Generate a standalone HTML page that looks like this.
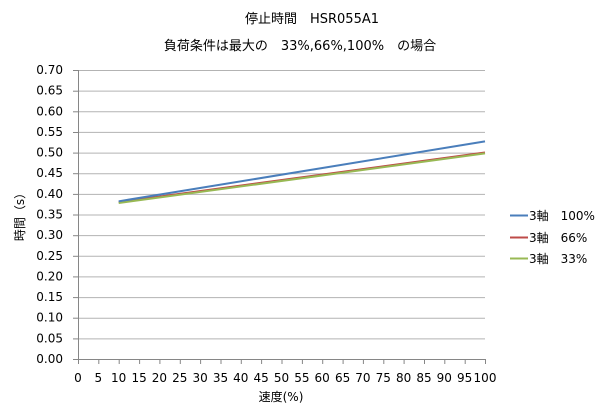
<!DOCTYPE html>
<html><head><meta charset="utf-8"><style>
html,body{margin:0;padding:0;background:#fff;}
svg{display:block;font-family:"DejaVu Sans","Noto Sans CJK JP",sans-serif;}
</style></head><body>
<svg width="600" height="418" viewBox="0 0 600 418" xmlns="http://www.w3.org/2000/svg">
<rect width="600" height="418" fill="#fff"/>
<text x="312" y="23" font-size="13" text-anchor="middle" fill="#000">停止時間　HSR055A1</text>
<text x="300" y="50" font-size="13" text-anchor="middle" fill="#000">負荷条件は最大の　33%,66%,100%　の場合</text>
<g stroke="#b3b3b3" stroke-width="1">
<line x1="78" y1="70.5" x2="485" y2="70.5"/>
<line x1="78" y1="91.1" x2="485" y2="91.1"/>
<line x1="78" y1="111.8" x2="485" y2="111.8"/>
<line x1="78" y1="132.4" x2="485" y2="132.4"/>
<line x1="78" y1="153.1" x2="485" y2="153.1"/>
<line x1="78" y1="173.7" x2="485" y2="173.7"/>
<line x1="78" y1="194.4" x2="485" y2="194.4"/>
<line x1="78" y1="215" x2="485" y2="215"/>
<line x1="78" y1="235.6" x2="485" y2="235.6"/>
<line x1="78" y1="256.3" x2="485" y2="256.3"/>
<line x1="78" y1="276.9" x2="485" y2="276.9"/>
<line x1="78" y1="297.6" x2="485" y2="297.6"/>
<line x1="78" y1="318.2" x2="485" y2="318.2"/>
<line x1="78" y1="338.9" x2="485" y2="338.9"/>
</g>
<g stroke="#868686" stroke-width="1">
<line x1="78.5" y1="70" x2="78.5" y2="359"/>
<line x1="78" y1="359.5" x2="485" y2="359.5"/>
</g>
<g stroke="#868686" stroke-width="1" id="yt"></g>
<g font-size="12" fill="#000" text-anchor="end" id="yl"></g>
<g font-size="12" fill="#000" text-anchor="middle" id="xl"></g>
<line x1="118.7" y1="202.1" x2="485" y2="152.5" stroke="#be4b48" stroke-width="2"/>
<line x1="118.7" y1="203" x2="485" y2="153.4" stroke="#98b954" stroke-width="2"/>
<line x1="118.7" y1="201.3" x2="485" y2="141.4" stroke="#4a7ebb" stroke-width="2"/>
<text x="24" y="214" font-size="12" text-anchor="middle" transform="rotate(-90 24 214)">時間（s）</text>
<text x="281" y="401" font-size="12" text-anchor="middle">速度(%)</text>
<line x1="510" y1="215.5" x2="528" y2="215.5" stroke="#4a7ebb" stroke-width="2"/>
<line x1="510" y1="237.5" x2="528" y2="237.5" stroke="#be4b48" stroke-width="2"/>
<line x1="510" y1="258.5" x2="528" y2="258.5" stroke="#98b954" stroke-width="2"/>
<g font-size="12" fill="#000">
<text x="529" y="220">3軸　100%</text>
<text x="529" y="242">3軸　66%</text>
<text x="529" y="263">3軸　33%</text>
</g>
<script>
var ns="http://www.w3.org/2000/svg";
var yl=document.getElementById('yl'),yt=document.getElementById('yt'),xl=document.getElementById('xl');
for(var i=0;i<=14;i++){var y=359-i*20.64;
var t=document.createElementNS(ns,'text');t.setAttribute('x','63');t.setAttribute('y',(y+4).toFixed(1));t.textContent=(i*0.05).toFixed(2);yl.appendChild(t);
var l=document.createElementNS(ns,'line');l.setAttribute('x1','73');l.setAttribute('x2','78');l.setAttribute('y1',(y+0.5).toFixed(1));l.setAttribute('y2',(y+0.5).toFixed(1));yt.appendChild(l);}
for(var j=0;j<=20;j++){var x=78+j*20.35;
var t=document.createElementNS(ns,'text');t.setAttribute('x',x.toFixed(1));t.setAttribute('y','382');t.textContent=j*5;xl.appendChild(t);
var l=document.createElementNS(ns,'line');l.setAttribute('x1',(x+0.5).toFixed(1));l.setAttribute('x2',(x+0.5).toFixed(1));l.setAttribute('y1','359');l.setAttribute('y2','364');yt.appendChild(l);}
</script>
</svg>
</body></html>
